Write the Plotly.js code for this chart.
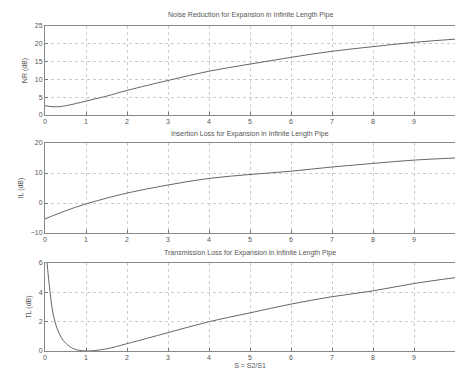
<!DOCTYPE html>
<html>
<head>
<meta charset="utf-8">
<script src="https://cdn.plot.ly/plotly-3.0.1.min.js"></script>
<style>html,body{margin:0;padding:0;background:#fff;}#chart{width:455px;height:376px;}</style>
</head>
<body>
<div id="chart"></div>
<script>
// Noise reduction (dB) vs area ratio
const nrX = [0, 0.25, 0.5, 1, 1.5, 2, 3, 4, 5, 6, 7, 8, 9, 10];
const nrY = [2.6, 2.3, 2.6, 3.9, 5.3, 6.9, 9.7, 12.3, 14.3, 16.2, 17.9, 19.2, 20.4, 21.3];
// Insertion loss (dB)
const ilX = [0, 0.5, 1, 1.5, 2, 3, 4, 5, 6, 7, 8, 9, 10];
const ilY = [-5.3, -2.6, -0.3, 1.6, 3.3, 6.0, 8.2, 9.5, 10.6, 12.0, 13.2, 14.3, 15.0];
// Transmission loss (dB)
const tlX = [0.05, 0.1, 0.15, 0.2, 0.3, 0.4, 0.5, 0.7, 1, 1.5, 2, 3, 4, 5, 6, 7, 8, 9, 10];
const tlY = [6.0, 4.6, 3.4, 2.5, 1.5, 0.9, 0.55, 0.15, 0.0, 0.15, 0.5, 1.25, 2.0, 2.6, 3.2, 3.7, 4.1, 4.6, 5.0];

const xTicks = [0,1,2,3,4,5,6,7,8,9,10];
const titles = [
  "Noise Reduction for Expansion in Infinite Length Pipe",
  "Insertion Loss for Expansion in Infinite Length Pipe",
  "Transmission Loss for Expansion in Infinite Length Pipe"
];
const yTitles = ["NR (dB)", "IL (dB)", "TL (dB)"];
const xTitle = "S = S2/S1";

const lineStyle = {color: "#666", width: 1};
const traces = [
  {x: nrX, y: nrY, type: "scatter", mode: "lines", line: lineStyle, xaxis: "x", yaxis: "y", hoverinfo: "skip"},
  {x: ilX, y: ilY, type: "scatter", mode: "lines", line: lineStyle, xaxis: "x2", yaxis: "y2", hoverinfo: "skip", line: {color: "#666", width: 1, shape: "spline"}},
  {x: tlX, y: tlY, type: "scatter", mode: "lines", line: {color: "#666", width: 1, shape: "spline"}, xaxis: "x3", yaxis: "y3", hoverinfo: "skip", cliponaxis: true}
];
traces[0].line = {color: "#666", width: 1, shape: "spline"};

const font = {family: "Liberation Sans, Arial, sans-serif", size: 7, color: "#555"};
function xa(anchor) {
  return {
    domain: [45/455, 1], range: [0, 10], anchor: anchor,
    tickvals: xTicks, ticks: "inside", ticklen: 3, tickcolor: "#777",
    showgrid: true, gridcolor: "#ccc", griddash: "dot", gridwidth: 1,
    showline: true, linecolor: "#888", mirror: true, zeroline: false,
    tickfont: font
  };
}
function ya(anchor, dom, range, dtick, title) {
  return {
    domain: dom, range: range, anchor: anchor, dtick: dtick, tick0: 0,
    ticks: "inside", ticklen: 3, tickcolor: "#777",
    showgrid: true, gridcolor: "#ccc", griddash: "dot", gridwidth: 1,
    showline: true, linecolor: "#888", mirror: true, zeroline: false,
    tickfont: font, title: {text: title, font: font, standoff: 6}
  };
}
const x3 = xa("y3");
x3.title = {text: xTitle, font: font, standoff: 2};
const layout = {
  width: 455, height: 376,
  margin: {l: 0, r: 0, t: 0, b: 0},
  paper_bgcolor: "#fff", plot_bgcolor: "#fff",
  showlegend: false,
  xaxis: xa("y"), xaxis2: xa("y2"), xaxis3: x3,
  yaxis: ya("x", [1-115/376, 1-26/376], [0, 25], 5, yTitles[0]),
  yaxis2: ya("x2", [1-233/376, 1-143/376], [-10, 20], 10, yTitles[1]),
  yaxis3: ya("x3", [1-351/376, 1-263/376], [0, 6], 2, yTitles[2]),
  annotations: [
    {text: titles[0], xref: "paper", yref: "paper", x: 250/455, y: 1-15/376, showarrow: false, font: font, xanchor: "center", yanchor: "middle"},
    {text: titles[1], xref: "paper", yref: "paper", x: 250/455, y: 1-134/376, showarrow: false, font: font, xanchor: "center", yanchor: "middle"},
    {text: titles[2], xref: "paper", yref: "paper", x: 250/455, y: 1-253/376, showarrow: false, font: font, xanchor: "center", yanchor: "middle"}
  ]
};
Plotly.newPlot("chart", traces, layout, {staticPlot: true, displayModeBar: false});
</script>
</body>
</html>
